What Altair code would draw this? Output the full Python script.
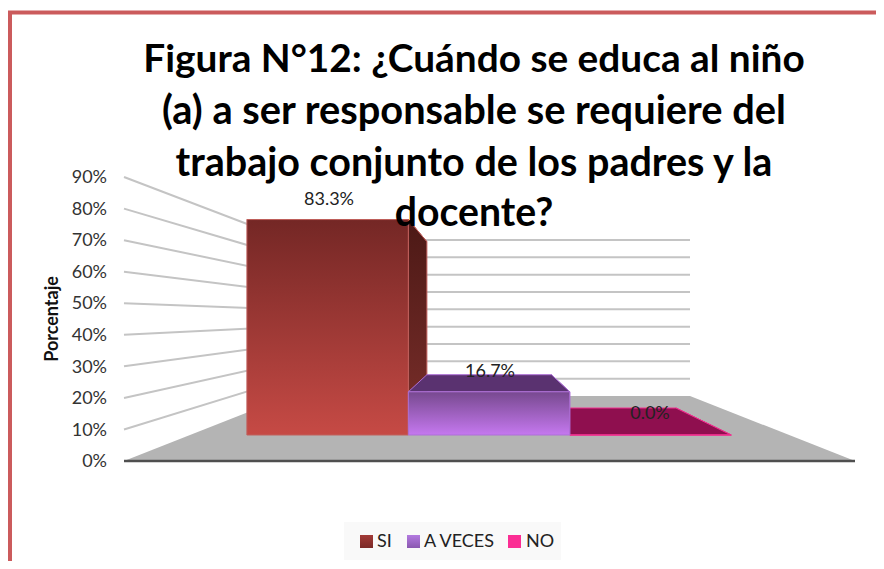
import altair as alt
import pandas as pd

# ---------- chart content ----------
CATEGORIES = ["SI", "A VECES", "NO"]
VALUES = [83.3, 16.7, 0.0]
LABELS = ["83.3%", "16.7%", "0.0%"]
TICKS = [0, 10, 20, 30, 40, 50, 60, 70, 80, 90]
TITLE_LINES = [
    "Figura N°12: ¿Cuándo se educa al niño",
    "(a) a ser responsable se requiere del",
    "trabajo conjunto de los padres y la",
    "docente?",
]
AXIS_TITLE = "Porcentaje"

# ---------- perspective of the 3-D box ----------
FRONT = dict(left=124.0, right=855.0, base=461.0, unit=3.155)
BACK = dict(left=289.0, right=690.0, base=396.0, unit=1.733)
BAR_DEPTH = (0.40, 0.815)
BAR_START, BAR_STEP = 0.095, 0.2695


def project(frac, depth, value):
    """frac: 0-1 across the floor, depth: 0 front-1 back, value: percent."""
    mix = lambda k: FRONT[k] + (BACK[k] - FRONT[k]) * depth
    left, right = mix("left"), mix("right")
    return left + (right - left) * frac, mix("base") - mix("unit") * value


def envelope(points):
    """Turn a convex polygon into x / top / bottom rows for an area mark."""
    rows = []
    n = len(points)
    for x in sorted({p[0] for p in points}):
        ys = []
        for i in range(n):
            (x0, y0), (x1, y1) = points[i], points[(i + 1) % n]
            if x0 == x1:
                if x == x0:
                    ys += [y0, y1]
            elif min(x0, x1) <= x <= max(x0, x1):
                ys.append(y0 + (y1 - y0) * (x - x0) / (x1 - x0))
        rows.append({"x": x, "y": min(ys), "y2": max(ys)})
    return pd.DataFrame(rows)


XS = alt.Scale(domain=[8, 876], nice=False, zero=False)
YS = alt.Scale(domain=[561, 8], nice=False, zero=False)
X = alt.X("x:Q", scale=XS, axis=None)
Y = alt.Y("y:Q", scale=YS, axis=None)


def grad(top, bottom):
    return alt.Gradient(
        gradient="linear",
        stops=[alt.GradientStop(offset=0, color=top), alt.GradientStop(offset=1, color=bottom)],
        x1=0, x2=0, y1=0, y2=1,
    )


def poly(points, fill, stroke=None, sw=1.0):
    kw = dict(fill=fill, opacity=1)
    if stroke:
        kw.update(stroke=stroke, strokeWidth=sw)
    return alt.Chart(envelope(points)).mark_area(**kw).encode(x=X, y=Y, y2="y2:Q")


def line(points, color, width):
    df = pd.DataFrame({"x": [p[0] for p in points], "y": [p[1] for p in points], "o": range(len(points))})
    return alt.Chart(df).mark_line(color=color, strokeWidth=width, strokeCap="butt", strokeJoin="miter").encode(
        x=X, y=Y, order="o:O"
    )


def text(rows, **mark):
    return alt.Chart(pd.DataFrame(rows)).mark_text(**mark).encode(x=X, y=Y, text="t:N")


FONT = "Lato"
GRID = "#c4c4c4"
layers = []

# frame
layers.append(line([(10, 561), (10, 12.5), (876, 12.5)], "#cb5b5c", 4))

# walls
for v in TICKS[1:]:
    layers.append(line([project(0, 0, v), project(0, 1, v)], GRID, 2))
    layers.append(line([project(0, 1, v), project(1, 1, v)], GRID, 2))

# floor
layers.append(poly([project(0, 0, 0), project(1, 0, 0), project(1, 1, 0), project(0, 1, 0)], "#b4b4b4"))
layers.append(line([project(0, 0, 0), project(1, 0, 0)], "#4f4f4f", 2.5))

# bars
STYLES = [
    dict(front=grad("#742725", "#c64a45"), top="#6b2422", side=grad("#4c1916", "#7c2f2b"), stroke="#c0605c"),
    dict(front=grad("#77498f", "#c578ef"), top="#5a3270", side="#5a3270", stroke="#ad6fd6"),
    dict(front="#8f0f4f", top="#8f0f4f", side="#8f0f4f", stroke="#f0308f"),
]
d0, d1 = BAR_DEPTH
for i in [0, 2, 1]:
    v, st = VALUES[i], STYLES[i]
    f0, f1 = BAR_START + i * BAR_STEP, BAR_START + (i + 1) * BAR_STEP
    top = poly([project(f0, d0, v), project(f1, d0, v), project(f1, d1, v), project(f0, d1, v)],
               st["top"], st["stroke"])
    side = poly([project(f1, d0, 0), project(f1, d1, 0), project(f1, d1, v), project(f1, d0, v)],
                st["side"], st["stroke"])
    # Whichever of the two faces lies behind the other is painted first.
    top_visible = project(f0, d1, v)[1] < project(f0, d0, v)[1]
    layers += [side, top] if top_visible else [top, side]
    layers.append(poly([project(f0, d0, 0), project(f1, d0, 0), project(f1, d0, v), project(f0, d0, v)],
                       st["front"], st["stroke"]))

# tick labels
layers.append(text(
    [{"x": 107, "y": project(0, 0, v)[1] + 1.2, "t": f"{v}%"} for v in TICKS],
    align="right", baseline="middle", font=FONT, fontSize=18, color="#333333",
))
layers.append(text(
    [{"x": 52.5, "y": 319, "t": AXIS_TITLE}],
    align="center", baseline="middle", font=FONT, fontSize=18, fontWeight="bold", angle=270, color="#111111",
))

# data labels
LABEL_POS = [(329, 199.5), (490, 372), (650, 414)]
layers.append(text(
    [{"x": p[0], "y": p[1], "t": s} for p, s in zip(LABEL_POS, LABELS)],
    align="center", baseline="middle", font=FONT, fontSize=18, color="#222222",
))

# title
TITLE_Y = [60, 112, 164, 214]
TITLE_SIZE = [38.8, 39.8, 39.5, 39.2]
for y, s, size in zip(TITLE_Y, TITLE_LINES, TITLE_SIZE):
    layers.append(text(
        [{"x": 474, "y": y, "t": s}],
        align="center", baseline="middle", font=FONT, fontSize=size, fontWeight="bold", color="#000000",
    ))

# legend
layers.append(poly([(344, 522), (561, 522), (561, 560), (344, 560)], "#f9f9f9"))
SWATCHES = [360, 407, 508]
SW_FILL = [grad("#a23a37", "#7c2a28"), grad("#b37ae0", "#8a58b0"), "#fb2e94"]
LEG_X = [377, 424, 526]
for sx, fill in zip(SWATCHES, SW_FILL):
    layers.append(poly([(sx, 535), (sx + 13, 535), (sx + 13, 548), (sx, 548)], fill))
layers.append(text(
    [{"x": x, "y": 542, "t": c} for x, c in zip(LEG_X, CATEGORIES)],
    align="left", baseline="middle", font=FONT, fontSize=18, color="#222222",
))

chart = (
    alt.layer(*layers)
    .properties(width=868, height=553, padding=0, background="white", autosize=alt.AutoSizeParams(type="none"))
    .configure_view(stroke=None)
)
chart.save("out.html", embed_options={"renderer": "svg", "actions": False})
